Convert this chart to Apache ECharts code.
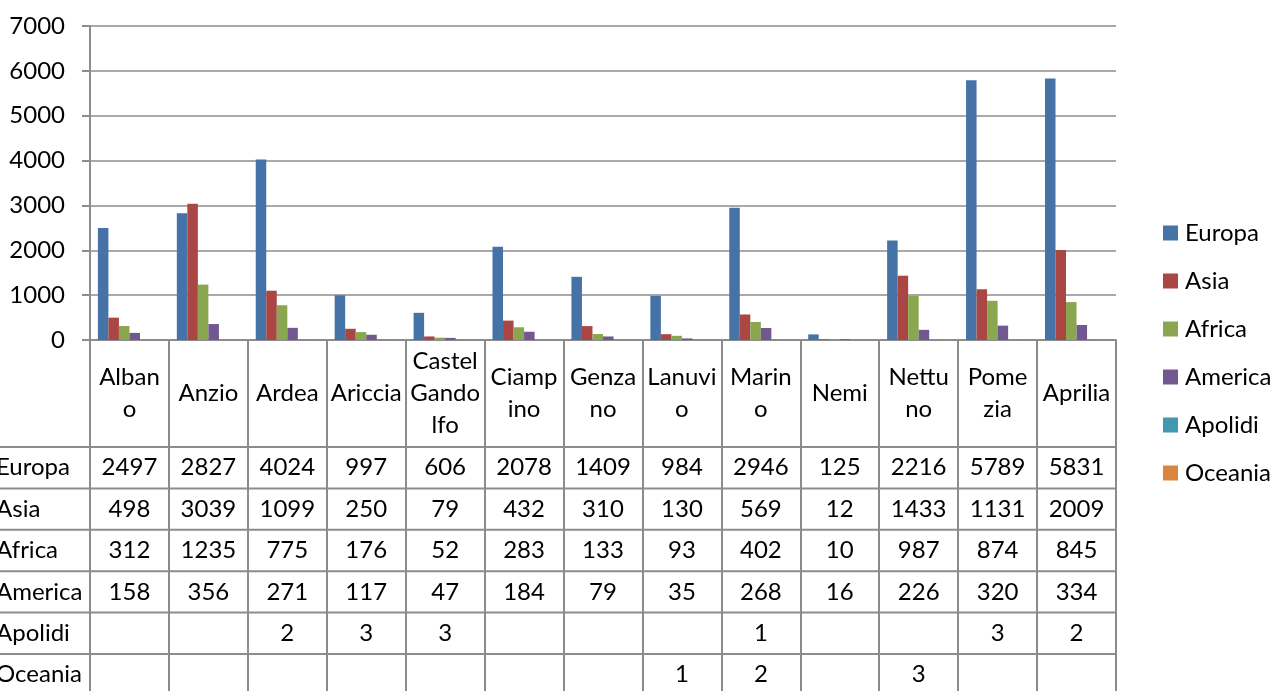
<!DOCTYPE html>
<html>
<head>
<meta charset="utf-8">
<script src="https://cdn.jsdelivr.net/npm/echarts@6/dist/echarts.min.js"></script>
<style>html,body{margin:0;padding:0;background:#fff;}#c{width:1270px;height:691px;}</style>
</head>
<body>
<div id="c"></div>
<script>
const categories = ['Albano','Anzio','Ardea','Ariccia','Castel Gandolfo','Ciampino','Genzano','Lanuvio','Marino','Nemi','Nettuno','Pomezia','Aprilia'];
const categoryLabels = ['Alban\no','Anzio','Ardea','Ariccia','Castel\nGando\nlfo','Ciamp\nino','Genza\nno','Lanuvi\no','Marin\no','Nemi','Nettu\nno','Pome\nzia','Aprilia'];
const seriesNames = ['Europa','Asia','Africa','America','Apolidi','Oceania'];
const europa  = [2497, 2827, 4024, 997, 606, 2078, 1409, 984, 2946, 125, 2216, 5789, 5831];
const asia    = [498, 3039, 1099, 250, 79, 432, 310, 130, 569, 12, 1433, 1131, 2009];
const africa  = [312, 1235, 775, 176, 52, 283, 133, 93, 402, 10, 987, 874, 845];
const america = [158, 356, 271, 117, 47, 184, 79, 35, 268, 16, 226, 320, 334];
const apolidi = [null, null, 2, 3, 3, null, null, null, 1, null, null, 3, 2];
const oceania = [null, null, null, null, null, null, null, 1, 2, null, 3, null, null];
const yTicks = [0, 1000, 2000, 3000, 4000, 5000, 6000, 7000];

const allValues = [europa, asia, africa, america, apolidi, oceania];
const colors = ['#4573A8', '#AA4644', '#8AA64F', '#71598F', '#4198AF', '#DB843D'];
const FONT = 'Lato';
const FS = 24;
const LINE = '#8c8c8c';
const GRID = {left: 90, right: 154, top: 26, bottom: 351};
const AXIS_Y = 691 - GRID.bottom;           // 340
const HEADER_H = 107;
const ROW_H = 41.4;

const chart = echarts.init(document.getElementById('c'));

const rowAxes = allValues.map((vals, r) => ({
  type: 'category',
  data: categories,
  gridIndex: 0,
  position: 'bottom',
  offset: HEADER_H + ROW_H * r + ROW_H / 2,
  axisLine: {show: false},
  axisTick: {show: false},
  splitLine: {show: false},
  axisLabel: {
    interval: 0, margin: 0, verticalAlign: 'middle',
    fontFamily: FONT, fontSize: FS, color: '#000',
    formatter: (v, i) => vals[i] == null ? '' : String(vals[i])
  }
}));

const option = {
  animation: false,
  backgroundColor: '#fff',
  color: colors,
  grid: {left: GRID.left, right: GRID.right, top: GRID.top, bottom: GRID.bottom},
  legend: {
    orient: 'vertical', left: 1158, top: 216,
    itemWidth: 15, itemHeight: 15, itemGap: 24,
    icon: 'rect',
    data: seriesNames,
    textStyle: {fontFamily: FONT, fontSize: FS, color: '#000', padding: [0, 0, 0, 2]}
  },
  xAxis: [{
    type: 'category',
    data: categories,
    axisLine: {show: true, lineStyle: {color: LINE, width: 2}},
    axisTick: {show: true, length: 400, lineStyle: {color: LINE, width: 2}},
    axisLabel: {
      interval: 0, margin: HEADER_H / 2, verticalAlign: 'middle', align: 'center',
      fontFamily: FONT, fontSize: FS, color: '#000', lineHeight: 32,
      formatter: (v, i) => categoryLabels[i]
    },
    splitLine: {show: false}
  }].concat(rowAxes),
  yAxis: {
    type: 'value', min: yTicks[0], max: yTicks[yTicks.length - 1], interval: 1000,
    axisLine: {show: true, lineStyle: {color: LINE, width: 2}},
    axisTick: {show: true, length: 8, lineStyle: {color: LINE, width: 2}},
    axisLabel: {fontFamily: FONT, fontSize: FS, color: '#000', margin: 25, formatter: v => String(v)},
    splitLine: {show: true, lineStyle: {color: LINE, width: 1.5}}
  },
  series: seriesNames.map((name, s) => ({
    name: name, type: 'bar', data: allValues[s],
    barGap: '0%', barCategoryGap: '20%',
    itemStyle: {color: colors[s]}
  }))
};
chart.setOption(option);

// table grid lines and row headers
const tableRight = chart.getWidth() - GRID.right;
const graphics = [];
for (let r = 0; r < allValues.length; r++) {
  const yLine = AXIS_Y + HEADER_H + ROW_H * r;
  graphics.push({
    type: 'line', silent: true,
    shape: {x1: 0, y1: yLine, x2: tableRight, y2: yLine},
    style: {stroke: LINE, lineWidth: 2}
  });
  graphics.push({
    type: 'text', silent: true,
    x: -4, y: yLine + ROW_H / 2,
    style: {text: seriesNames[r], fontFamily: FONT, fontSize: FS, fill: '#000', verticalAlign: 'middle', align: 'left'}
  });
}
chart.setOption({graphic: graphics});
</script>
</body>
</html>
